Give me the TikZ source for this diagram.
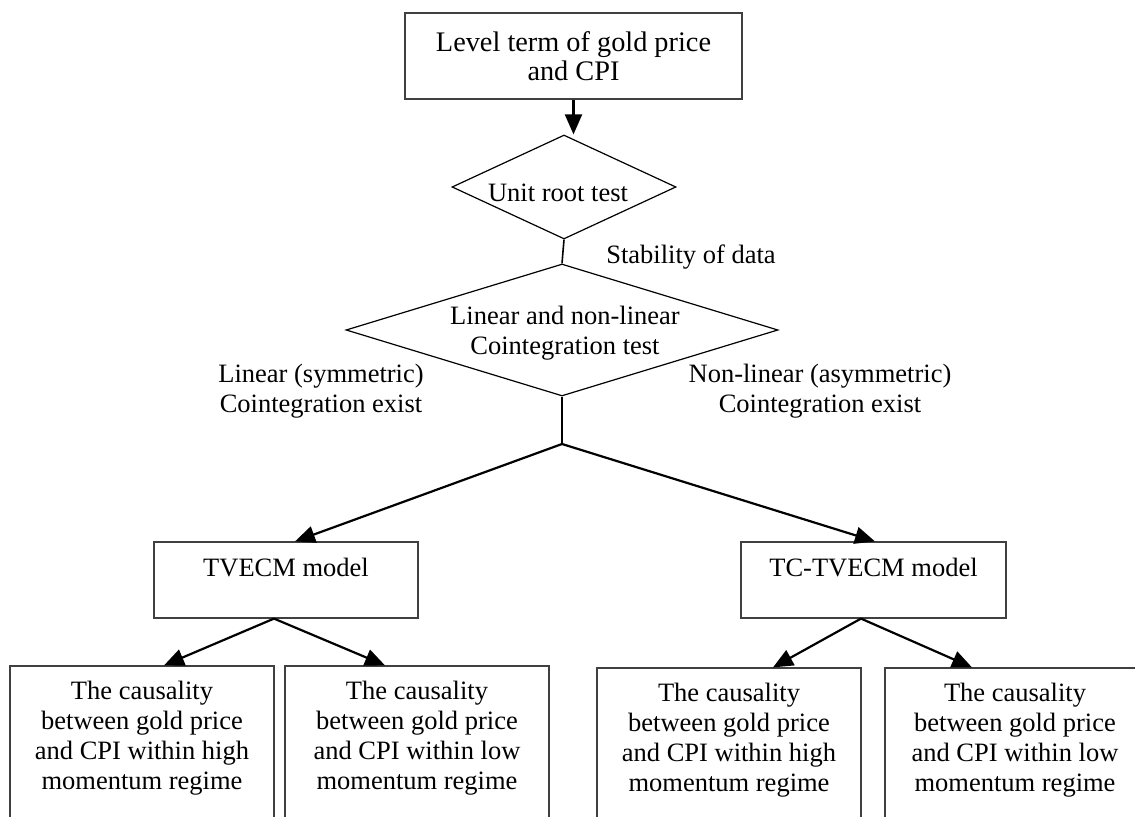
\documentclass[tikz,border=0pt]{standalone}
\usepackage{fontspec}
\setmainfont{Liberation Serif}
\usetikzlibrary{arrows.meta,shapes.geometric}
\begin{document}
\begin{tikzpicture}[x=0.5pt,y=-0.5pt,
  box/.style={draw=black!75, line width=0.6pt, rectangle, inner sep=0pt},
  txt/.style={align=center, font=\fontsize{13.25}{15}\selectfont, inner sep=0pt},
  dia/.style={draw=black, line width=0.6pt, diamond, inner sep=0pt},
  arr/.style={line width=1.1pt, -{Triangle[length=10pt,width=8.5pt]}},
  ln/.style={line width=0.8pt}]
\clip (0,0) rectangle (1135,817);
\fill[white] (0,0) rectangle (1135,817);
% top box
\node[box, minimum width=168.5pt, minimum height=43pt, align=center,
      font=\fontsize{14.15}{14.5}\selectfont] (top) at (573.5,56)
      {Level term of gold price\\and CPI};
% diamonds
\node[dia, minimum width=112pt, minimum height=52pt] (d1) at (564,187) {};
\node[txt] (d1t) at (558,193) {Unit root test};
\node[dia, minimum width=216pt, minimum height=66pt] (d2) at (562,330) {};
\node[txt] (d2t) at (565,333) {Linear and non-linear\\Cointegration test};
% labels
\node[txt] (stab) at (691,257) {Stability of data};
\node[txt] (linl) at (321,391) {Linear (symmetric)\\Cointegration exist};
\node[txt] (nonl) at (820,391) {Non-linear (asymmetric)\\Cointegration exist};
% model boxes
\node[box, minimum width=132pt, minimum height=38pt] (m1) at (286,580) {};
\node[txt] (m1t) at (286,568) {TVECM model};
\node[box, minimum width=132.5pt, minimum height=38pt] (m2) at (873.5,580) {};
\node[txt] (m2t) at (873.5,568) {TC-TVECM model};
% bottom boxes
\node[box, minimum width=132pt, minimum height=87pt] (b1) at (142,753) {};
\node[box, minimum width=132pt, minimum height=87pt] (b2) at (417,753) {};
\node[box, minimum width=132pt, minimum height=86pt] (b3) at (729,754) {};
\node[box, minimum width=132pt, minimum height=86pt] (b4) at (1017,754) {};
\node[txt] (b1t) at (142,738) {The causality\\between gold price\\and CPI within high\\momentum regime};
\node[txt] (b2t) at (417,738) {The causality\\between gold price\\and CPI within low\\momentum regime};
\node[txt] (b3t) at (729,740) {The causality\\between gold price\\and CPI within high\\momentum regime};
\node[txt] (b4t) at (1015,740) {The causality\\between gold price\\and CPI within low\\momentum regime};
% connectors
\coordinate (br) at (562,444);
\draw[arr] (top.south) -- (top.south |- d1.north);
\draw[ln] (d1.south) -- (d2.north);
\draw[ln] (d2.south) -- (br);
\draw[arr] (br) -- ([xshift=4.5pt]m1.north);
\draw[arr] (br) -- ([xshift=0.75pt]m2.north);
\draw[arr] ([xshift=-6pt]m1.south) -- ([xshift=11pt]b1.north);
\draw[arr] ([xshift=-6pt]m1.south) -- ([xshift=-16pt]b2.north);
\draw[arr] ([xshift=-6.25pt]m2.south) -- ([xshift=22pt]b3.north);
\draw[arr] ([xshift=-6.25pt]m2.south) -- ([xshift=-22.5pt]b4.north);
\end{tikzpicture}
\end{document}
